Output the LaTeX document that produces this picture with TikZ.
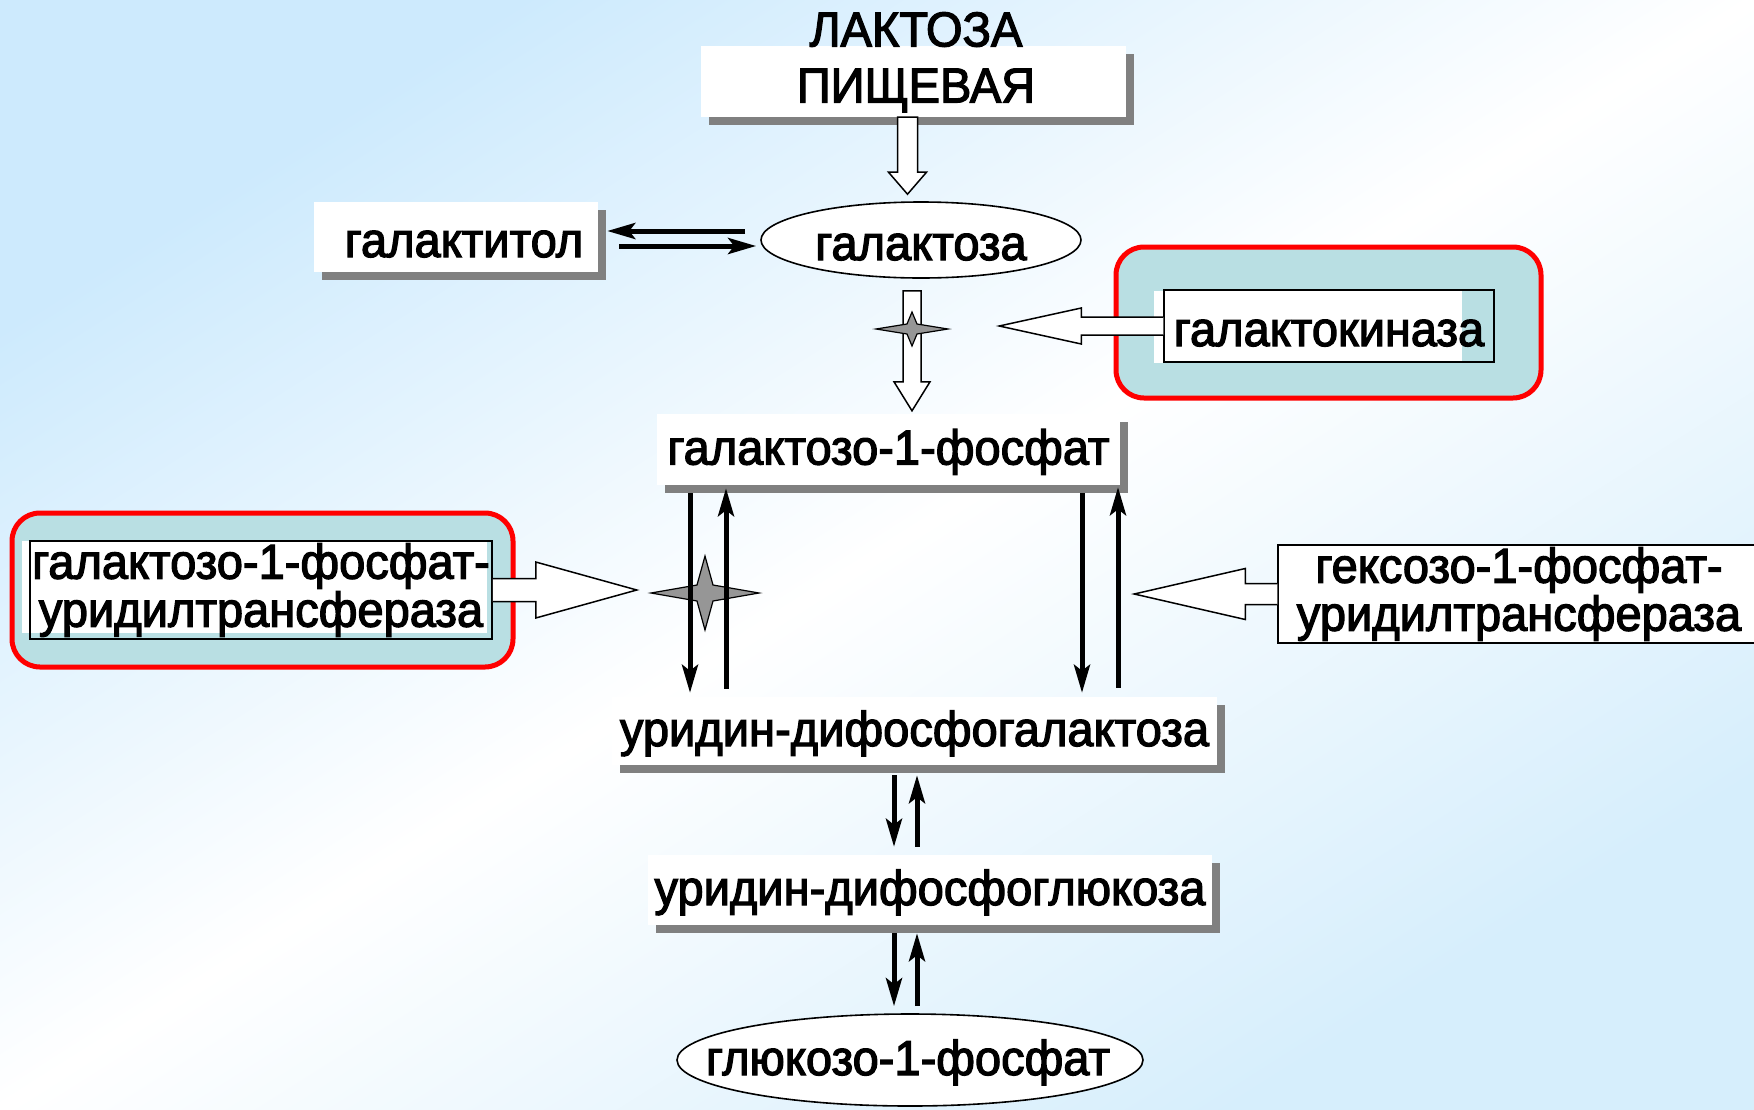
\documentclass[tikz,border=0pt]{standalone}
\usepackage{fontspec}
\setmainfont{Liberation Sans}[FakeStretch=0.96,FakeBold=2.5]
\usetikzlibrary{arrows.meta,shapes.geometric,shadows,calc}

\definecolor{bgA}{HTML}{CDEAFD}
\definecolor{bgB}{HTML}{D6EEFC}
\definecolor{enzfill}{HTML}{B9DFE3}
\definecolor{shadowgray}{HTML}{808080}
\definecolor{stargray}{HTML}{969696}

% block arrow drawn along +x in a local frame:
% #1 placement, #2 shaft length, #3 total length, #4 half shaft width, #5 half head width, #6 closing
\newcommand\blockarrow[6]{%
  \filldraw[hollow,#1] (0,-#4) -- (#2,-#4) -- (#2,-#5) -- (#3,0) -- (#2,#5) -- (#2,#4) -- (0,#4) #6;}
% four-pointed star: #1 centre, #2 half width, #3 half height, #4 waist
\newcommand\fourstar[4]{%
  \filldraw[starsty,shift={(#1)}] (-#2,0) -- (-#4,-#4) -- (0,-#3) -- (#4,-#4) -- (#2,0)
    -- (#4,#4) -- (0,#3) -- (-#4,#4) -- cycle;}

\tikzset{
  lbl/.style={font=\fontsize{49}{48}\selectfont},
  one/.style={lbl, text height=40pt, text depth=10pt},
  flat/.style={lbl, text height=40pt, text depth=0pt},
  sbox/.style={fill=white, inner sep=0pt,
    general shadow={fill=shadowgray, shadow xshift=8pt, shadow yshift=-8pt}},
  ell/.style={ellipse, draw, line width=1.6pt, fill=white, inner sep=0pt},
  enzframe/.style={draw=red, line width=5pt, fill=enzfill, rounded corners=28pt, inner sep=0pt},
  ebox/.style={lbl, draw, line width=1.5pt, inner sep=0pt},
  hollow/.style={draw, line width=1.5pt, fill=white, line join=miter},
  starsty/.style={draw, line width=1.2pt, fill=stargray},
  reac/.style={line width=5pt, -{Stealth[length=28pt,width=16pt,inset=6pt]}},
}

\begin{document}
\begin{tikzpicture}[x=1pt,y=-1pt]
\useasboundingbox (0,0) rectangle (1754,1109);
% background: blue corners top left and bottom right, white along the other diagonal
\shade[transform canvas={xscale=1.58161}, top color=bgA, bottom color=bgB, middle color=white,
  shading angle=45] (0,0) rectangle (1109,1109);

% enzyme panels
\node[enzframe, minimum width=425pt, minimum height=151pt] (kinframe) at (1328.5,322.5) {};
\fill[white] (1154,291) rectangle (1462,363);
\node[ebox, flat, minimum width=330pt, minimum height=72pt] (kin) at (1329,326) {галактокиназа};

\node[enzframe, minimum width=501pt, minimum height=154pt] (lframe) at (262.5,590) {};
\fill[white] (22,541) rectangle (487,633);
\node[ebox, minimum width=462pt, minimum height=98pt, align=center] (lenz) at (261,590)
  {галактозо-1-фосфат-\\уридилтрансфераза};

\node[ebox, fill=white, minimum width=482pt, minimum height=98pt, align=center] (renz) at (1519,594)
  {гексозо-1-фосфат-\\уридилтрансфераза};

% metabolites
\node[sbox, minimum width=425pt, minimum height=71pt] (lactbox) at (913.5,81.5) {};
\node[font=\fontsize{49}{56}\selectfont, align=center, anchor=north, inner sep=0pt] (lact) at (916,12)
  {ЛАКТОЗА\\ПИЩЕВАЯ};
\node[sbox, minimum width=284pt, minimum height=70pt] (galactitol) at (456,237) {};
\node[flat, inner sep=0pt] (galactitoltxt) at ($(galactitol.center)+(8,0)$) {галактитол};
\node[ell, flat, minimum width=320pt, minimum height=76pt] (galactose) at (921,240) {галактоза};
\node[sbox, one, minimum width=463pt, minimum height=71pt] (gal1p) at (888.5,449.5) {галактозо-1-фосфат};
\node[sbox, one, minimum width=605pt, minimum height=68pt] (udpgal) at (914.5,731) {уридин-дифосфогалактоза};
\node[sbox, one, minimum width=564pt, minimum height=70pt] (udpglc) at (930,890) {уридин-дифосфоглюкоза};
\node[ell, minimum width=466pt, minimum height=92pt] (g1p) at (910,1060) {};
\node[one, inner sep=0pt] (g1ptxt) at ($(g1p.center)+(-2,0)$) {глюкозо-1-фосфат};

% block arrows
\blockarrow{shift={($(lactbox.south)+(-6,0)$)}, rotate=-90}{55}{77}{10}{19}{-- cycle}
\blockarrow{shift={($(galactose.south)+(-9,12)$)}, rotate=-90}{91}{120}{9}{18}{-- cycle}
\blockarrow{shift={(kin.west)}, rotate=180}{82}{164}{9}{18}{}
\blockarrow{shift={(lenz.east)}}{43}{144}{11.5}{28}{}
\blockarrow{shift={(renz.west)}, rotate=180}{32}{143}{10.5}{25.5}{}

% enzyme action marks
\coordinate (kinstar) at (912,329);
\coordinate (gtstar) at (705,593);
\fourstar{kinstar}{36}{17}{5}
\fourstar{gtstar}{54}{37}{8}

% reactions
\draw[reac] ([xshift=-15pt,yshift=9pt]galactose.west) -- ([xshift=9pt,yshift=6pt]galactitol.east);
\draw[reac] ([xshift=21pt,yshift=-9pt]galactitol.east) -- ([xshift=-4pt,yshift=-6pt]galactose.west);

\draw[reac] ([xshift=-198.5pt,yshift=-8pt]gal1p.south) -- ([xshift=-224.5pt,yshift=4pt]udpgal.north);
\draw[reac] ([xshift=-188.5pt,yshift=8pt]udpgal.north) -- ([xshift=-162.5pt,yshift=-3pt]gal1p.south);
\draw[reac] ([xshift=193.5pt,yshift=-8pt]gal1p.south) -- ([xshift=167.5pt,yshift=4pt]udpgal.north);
\draw[reac] ([xshift=203.5pt,yshift=9pt]udpgal.north) -- ([xshift=229.5pt,yshift=-2pt]gal1p.south);

\draw[reac] ([xshift=-20.5pt,yshift=-10pt]udpgal.south) -- ([xshift=-36pt,yshift=8pt]udpglc.north);
\draw[reac] ([xshift=-13pt,yshift=8pt]udpglc.north) -- ([xshift=2.5pt,yshift=-10pt]udpgal.south);
\draw[reac] ([xshift=-36pt,yshift=-8pt]udpglc.south) -- ([xshift=-16pt,yshift=7pt]g1p.north);
\draw[reac] ([xshift=7pt,yshift=7pt]g1p.north) -- ([xshift=-13pt,yshift=-8pt]udpglc.south);
\end{tikzpicture}
\end{document}
